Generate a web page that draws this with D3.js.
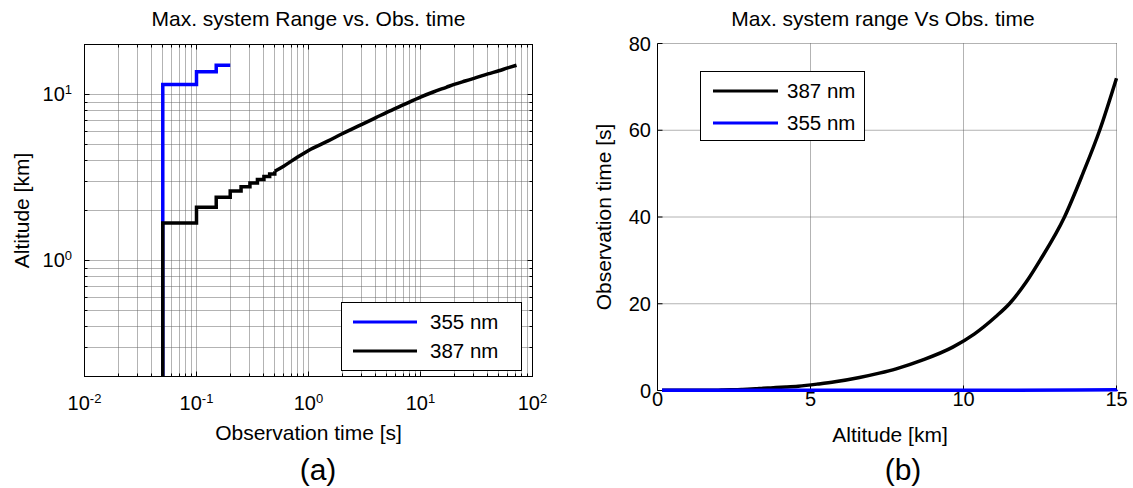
<!DOCTYPE html>
<html>
<head>
<meta charset="utf-8">
<script src="https://cdn.jsdelivr.net/npm/d3@7"></script>
<style>
  body { margin: 0; background: #fff; }
  svg { display: block; font-family: "Liberation Sans", Arial, sans-serif; }
</style>
</head>
<body>
<svg id="chart" width="1133" height="488"></svg>
<script>
// observation time [s] vs max altitude [km]
const time387 = [0.05, 0.05, 0.1, 0.15, 0.2, 0.25, 0.3, 0.35, 0.4, 0.45, 0.5, 0.6, 0.8, 1, 1.5, 2, 3, 4, 5, 7, 10, 13, 17, 20, 25, 30, 40, 50, 60, 72];
const alt387  = [0.15, 1.68, 2.09, 2.40, 2.62, 2.78, 2.93, 3.07, 3.2, 3.32, 3.45, 3.7, 4.2, 4.6, 5.25, 5.8, 6.6, 7.25, 7.8, 8.65, 9.65, 10.35, 11.05, 11.5, 12.05, 12.5, 13.3, 13.9, 14.45, 15.0];
const time355 = [0.05, 0.05, 0.1, 0.15, 0.2];
const alt355  = [0.15, 11.5, 13.7, 15.0, 15.0];

const seriesA = [
  { name: "355 nm", color: "#0000ff", t: time355, h: alt355 },
  { name: "387 nm", color: "#000000", t: time387, h: alt387 }
];
const seriesB = [seriesA[1], seriesA[0]]; // legend order in (b)

const stepLimit = 0.5; // staircase visible up to here in (a)
const xTicksB = [0, 5, 10, 15];
const yTicksB = [0, 20, 40, 60, 80];

const svg = d3.select("#chart");
const gridColor = "#666";
const px = v => Math.floor(v) + 0.5;

// ---------------- panel (a): log-log ----------------
const a = { left: 84.5, right: 532.5, top: 44.5, bottom: 376.5 };
const xA = d3.scaleLog().domain([0.01, 100]).range([a.left, a.right]);
const yA = d3.scaleLog().domain([0.2, 20]).range([a.bottom, a.top]);
const isMajor = v => Math.abs(Math.log10(v) - Math.round(Math.log10(v))) < 1e-9;

const gA = svg.append("g");
svg.append("clipPath").attr("id", "clipA").append("rect")
  .attr("x", a.left).attr("y", a.top).attr("width", a.right - a.left).attr("height", a.bottom - a.top);

const xtA = xA.ticks().filter(v => v > 0.01 && v < 100);
const ytA = yA.ticks().filter(v => v > 0.2 + 1e-9 && v < 20 - 1e-9);

gA.selectAll(".gx").data(xtA).join("line")
  .attr("x1", d => px(xA(d))).attr("x2", d => px(xA(d)))
  .attr("y1", a.top).attr("y2", a.bottom)
  .attr("stroke", gridColor).attr("stroke-dasharray", "1,1");
gA.selectAll(".gy").data(ytA).join("line")
  .attr("y1", d => px(yA(d))).attr("y2", d => px(yA(d)))
  .attr("x1", a.left).attr("x2", a.right)
  .attr("stroke", gridColor).attr("stroke-dasharray", "1,1");

// inward ticks on all four sides
const tl = d => isMajor(d) ? 5 : 3;
[a.bottom, a.top].forEach((y0, i) => {
  const s = i === 0 ? -1 : 1;
  gA.selectAll(null).data(xA.ticks()).join("line")
    .attr("x1", d => px(xA(d))).attr("x2", d => px(xA(d)))
    .attr("y1", y0).attr("y2", d => y0 + s * tl(d)).attr("stroke", "#000");
});
[a.left, a.right].forEach((x0, i) => {
  const s = i === 0 ? 1 : -1;
  gA.selectAll(null).data(yA.ticks()).join("line")
    .attr("y1", d => px(yA(d))).attr("y2", d => px(yA(d)))
    .attr("x1", x0).attr("x2", d => x0 + s * tl(d)).attr("stroke", "#000");
});

// lines: staircase at short times, smooth afterwards
seriesA.forEach(s => {
  const pts = s.t.map((t, i) => [t, s.h[i]]);
  const stepPts = pts.filter(p => p[0] <= stepLimit);
  const smoothPts = pts.filter(p => p[0] >= stepLimit);
  gA.append("path")
    .attr("clip-path", "url(#clipA)")
    .attr("d", d3.line().x(p => xA(p[0])).y(p => yA(p[1])).curve(d3.curveStepAfter)(stepPts))
    .attr("fill", "none").attr("stroke", s.color).attr("stroke-width", 3.5);
  if (smoothPts.length > 1) {
    gA.append("path")
      .attr("clip-path", "url(#clipA)")
      .attr("d", d3.line().x(p => xA(p[0])).y(p => yA(p[1])).curve(d3.curveMonotoneX)(smoothPts))
      .attr("fill", "none").attr("stroke", s.color).attr("stroke-width", 3.5)
      .attr("stroke-linejoin", "round");
  }
});

gA.append("rect")
  .attr("x", a.left).attr("y", a.top).attr("width", a.right - a.left).attr("height", a.bottom - a.top)
  .attr("fill", "none").attr("stroke", "#000");

// tick labels 10^n
const majX = xA.ticks().filter(isMajor);
const lx = gA.selectAll(".lx").data(majX).join("text")
  .attr("x", d => xA(d)).attr("y", 410).attr("text-anchor", "middle")
  .attr("font-size", 20);
lx.append("tspan").text("10");
lx.append("tspan").attr("dy", -7.5).attr("font-size", 13).text(d => Math.round(Math.log10(d)));

const majY = yA.ticks().filter(isMajor);
const ly = gA.selectAll(".ly").data(majY).join("text")
  .attr("x", 72).attr("y", d => yA(d) + 7).attr("text-anchor", "end")
  .attr("font-size", 20);
ly.append("tspan").text("10");
ly.append("tspan").attr("dy", -7).attr("font-size", 13).text(d => Math.round(Math.log10(d)));

gA.append("text").attr("x", 308.5).attr("y", 26).attr("text-anchor", "middle")
  .attr("font-size", 21).text("Max. system Range vs. Obs. time");
gA.append("text").attr("x", 308.5).attr("y", 440).attr("text-anchor", "middle")
  .attr("font-size", 21).text("Observation time [s]");
gA.append("text").attr("transform", "translate(29,210.5) rotate(-90)").attr("text-anchor", "middle")
  .attr("font-size", 21).text("Altitude [km]");
gA.append("text").attr("x", 318).attr("y", 480).attr("text-anchor", "middle")
  .attr("font-size", 30).text("(a)");

// legend (a)
const legA = gA.append("g");
legA.append("rect").attr("x", 341.5).attr("y", 302.5).attr("width", 180).attr("height", 68)
  .attr("fill", "#fff").attr("stroke", "#000");
seriesA.forEach((s, i) => {
  const y = 322 + i * 29;
  legA.append("line").attr("x1", 353).attr("x2", 417).attr("y1", y).attr("y2", y)
    .attr("stroke", s.color).attr("stroke-width", 3);
  legA.append("text").attr("x", 430).attr("y", y + 7).attr("font-size", 20.5).text(s.name);
});

// ---------------- panel (b): linear ----------------
const b = { left: 657.5, right: 1116.5, top: 43.5, bottom: 390.5 };
const xB = d3.scaleLinear().domain([0, 15]).range([b.left, b.right]);
const yB = d3.scaleLinear().domain([0, 80]).range([b.bottom, b.top]);
const gB = svg.append("g");
svg.append("clipPath").attr("id", "clipB").append("rect")
  .attr("x", b.left).attr("y", b.top - 2).attr("width", b.right - b.left + 2).attr("height", b.bottom - b.top + 4);

gB.selectAll(".gx").data(xTicksB.filter(v => v > 0)).join("line")
  .attr("x1", d => xB(d)).attr("x2", d => xB(d)).attr("y1", b.top).attr("y2", b.bottom)
  .attr("stroke", gridColor).attr("stroke-dasharray", "1,1");
gB.selectAll(".gy").data(yTicksB.filter(v => v > 0)).join("line")
  .attr("y1", d => yB(d)).attr("y2", d => yB(d)).attr("x1", b.left).attr("x2", b.right)
  .attr("stroke", gridColor).attr("stroke-dasharray", "1,1");

gB.selectAll(".tx").data(xTicksB).join("line")
  .attr("x1", d => xB(d)).attr("x2", d => xB(d)).attr("y1", b.bottom).attr("y2", b.bottom - 5)
  .attr("stroke", "#000");
gB.selectAll(".ty").data(yTicksB).join("line")
  .attr("y1", d => yB(d)).attr("y2", d => yB(d)).attr("x1", b.left).attr("x2", b.left + 5)
  .attr("stroke", "#000");

gB.append("line").attr("x1", b.left).attr("x2", b.left).attr("y1", b.top).attr("y2", b.bottom).attr("stroke", "#000");
gB.append("line").attr("x1", b.left).attr("x2", b.right).attr("y1", b.bottom).attr("y2", b.bottom).attr("stroke", "#000");

seriesB.forEach(s => {
  const pts = s.t.map((t, i) => [s.h[i], t]);
  // altitude is strictly increasing for 387 nm, so it can be smoothed along x
  const strictly = pts.every((p, i) => i === 0 || p[0] > pts[i - 1][0]);
  gB.append("path")
    .attr("clip-path", "url(#clipB)")
    .attr("d", d3.line().x(p => xB(p[0])).y(p => yB(p[1]))
      .curve(strictly ? d3.curveMonotoneX : d3.curveLinear)(pts))
    .attr("fill", "none").attr("stroke", s.color).attr("stroke-width", 3.5)
    .attr("stroke-linejoin", "round");
});

gB.selectAll(".lx").data(xTicksB).join("text")
  .attr("x", d => xB(d)).attr("y", 406).attr("text-anchor", "middle")
  .attr("font-size", 20).text(d => d);
gB.selectAll(".ly").data(yTicksB).join("text")
  .attr("x", 651).attr("y", d => yB(d) + 7).attr("text-anchor", "end")
  .attr("font-size", 20).text(d => d);

gB.append("text").attr("x", 883).attr("y", 26).attr("text-anchor", "middle")
  .attr("font-size", 21).text("Max. system range Vs Obs. time");
gB.append("text").attr("x", 890).attr("y", 442).attr("text-anchor", "middle")
  .attr("font-size", 21).text("Altitude [km]");
gB.append("text").attr("transform", "translate(611,217) rotate(-90)").attr("text-anchor", "middle")
  .attr("font-size", 21).text("Observation time [s]");
gB.append("text").attr("x", 903).attr("y", 480).attr("text-anchor", "middle")
  .attr("font-size", 30).text("(b)");

// legend (b)
const legB = gB.append("g");
legB.append("rect").attr("x", 700.5).attr("y", 71.5).attr("width", 164).attr("height", 69)
  .attr("fill", "#fff").attr("stroke", "#000");
seriesB.forEach((s, i) => {
  const y = 91 + i * 32;
  legB.append("line").attr("x1", 713).attr("x2", 778).attr("y1", y).attr("y2", y)
    .attr("stroke", s.color).attr("stroke-width", 3);
  legB.append("text").attr("x", 787).attr("y", y + 7).attr("font-size", 20.5).text(s.name);
});
</script>
</body>
</html>
